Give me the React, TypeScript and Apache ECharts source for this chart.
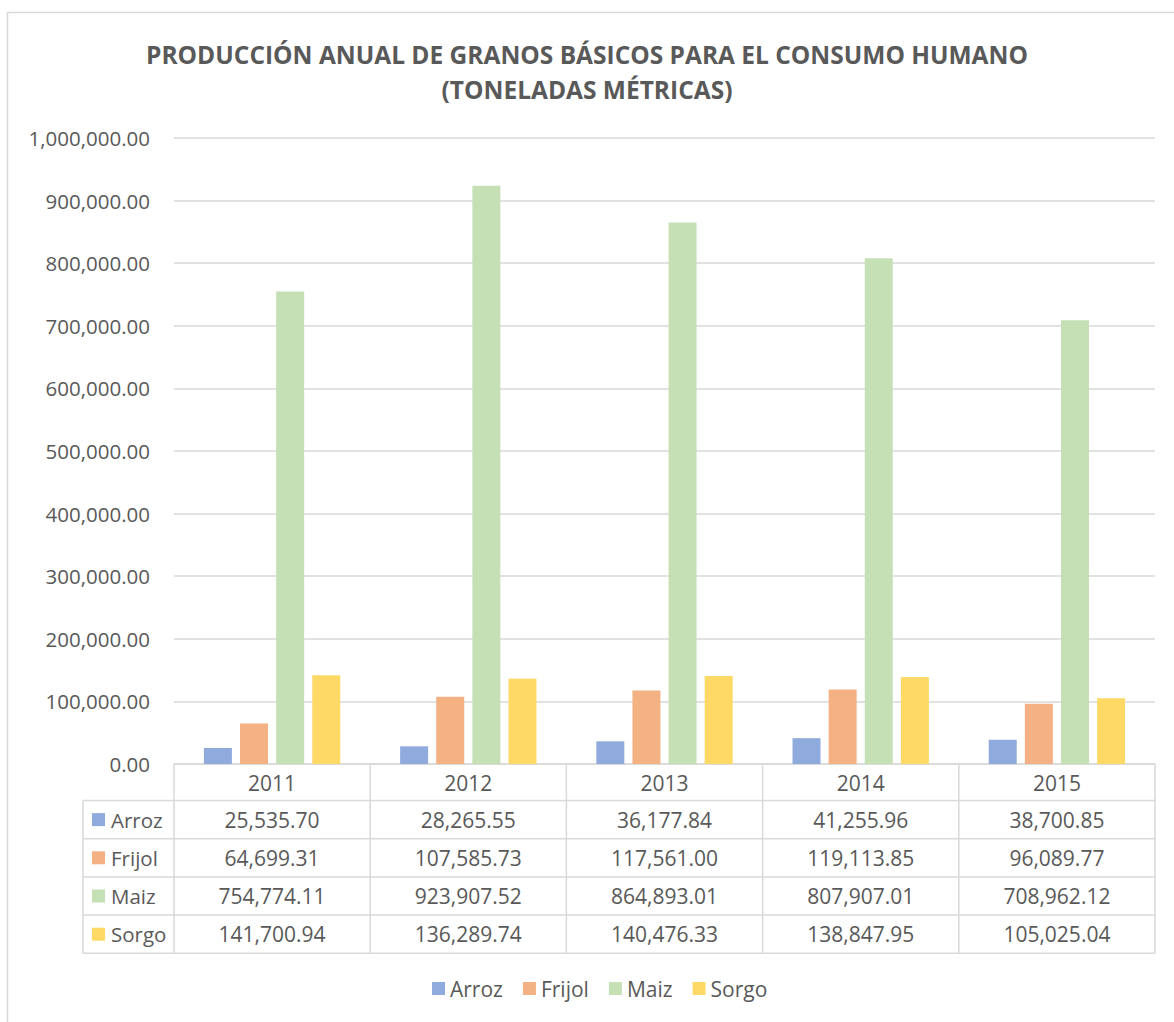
import React, { useEffect, useRef } from "react";
import * as echarts from "echarts";

const categories = ["2011", "2012", "2013", "2014", "2015"];
const seriesNames = ["Arroz", "Frijol", "Maiz", "Sorgo"];
const arroz = [25535.7, 28265.55, 36177.84, 41255.96, 38700.85];
const frijol = [64699.31, 107585.73, 117561.0, 119113.85, 96089.77];
const maiz = [754774.11, 923907.52, 864893.01, 807907.01, 708962.12];
const sorgo = [141700.94, 136289.74, 140476.33, 138847.95, 105025.04];
const seriesColors = ["#8FAADC", "#F4B183", "#C5E0B4", "#FFD966"];
const titleLines = [
  "PRODUCCIÓN ANUAL DE GRANOS BÁSICOS PARA EL CONSUMO HUMANO",
  "(TONELADAS MÉTRICAS)",
];
const yMin = 0;
const yMax = 1000000;
const yInterval = 100000;

const seriesData = [arroz, frijol, maiz, sorgo];

const FONT = "'Open Sans', 'Noto Sans', sans-serif";
const TEXT = "#595959";
const LINE = "#D9D9D9";

const fmt = (v: number) =>
  v.toLocaleString("en-US", { minimumFractionDigits: 2, maximumFractionDigits: 2 });

export default function App() {
  const ref = useRef<HTMLDivElement>(null);

  useEffect(() => {
    document.body.style.margin = "0";
    const el = ref.current!;
    const chart = echarts.init(el, null, { renderer: "svg" });

    const base: any = {
      animation: false,
      backgroundColor: "#FFFFFF",
      title: titleLines.map((t, i) => ({
        text: t,
        left: "center",
        top: 37 + i * 35,
        textStyle: { fontFamily: FONT, fontSize: 24.5, fontWeight: "bold", color: TEXT },
      })),
      legend: {
        data: seriesNames,
        bottom: 18,
        left: 427,
        itemWidth: 13,
        itemHeight: 13,
        itemGap: 20,
        icon: "rect",
        textStyle: { fontFamily: FONT, fontSize: 21, color: TEXT },
      },
      grid: { left: 174, right: 19, top: 138, bottom: 258, containLabel: false },
      xAxis: {
        type: "category",
        data: categories,
        axisLine: { show: true, lineStyle: { color: LINE, width: 1.5 } },
        axisTick: { show: false },
        axisLabel: { fontFamily: FONT, fontSize: 21, color: TEXT, margin: 8 },
      },
      yAxis: {
        type: "value",
        min: yMin,
        max: yMax,
        interval: yInterval,
        axisLine: { show: false },
        axisTick: { show: false },
        axisLabel: {
          fontFamily: FONT,
          fontSize: 20.5,
          color: TEXT,
          margin: 24,
          formatter: (v: number) => fmt(v),
        },
        splitLine: { lineStyle: { color: LINE, width: 1.5 } },
      },
      series: seriesNames.map((name, i) => ({
        name,
        type: "bar",
        data: seriesData[i],
        barWidth: 28,
        barGap: "29%",
        itemStyle: { color: seriesColors[i] },
      })),
    };
    chart.setOption(base);

    // Data table below the plot, positioned via the axis scales
    const xs = categories.map((c) => chart.convertToPixel({ xAxisIndex: 0 }, c) as number);
    const step = xs.length > 1 ? xs[1] - xs[0] : 196;
    const xLeft = xs[0] - step / 2;
    const xRight = xs[xs.length - 1] + step / 2;
    const y0 = chart.convertToPixel({ yAxisIndex: 0 }, 0) as number;
    const HEADER_H = 36.5;
    const ROW_H = 38.2;
    const TABLE_LEFT = 83;
    const rowTop = y0 + HEADER_H;
    const tableBottom = rowTop + ROW_H * seriesNames.length;

    const g: any[] = [];
    g.push({
      type: "rect",
      shape: { x: 7.5, y: 12.5, width: 1200, height: 1100 },
      style: { fill: "none", stroke: LINE, lineWidth: 1.5 },
      silent: true,
    });
    for (let i = 0; i <= seriesNames.length; i++) {
      const y = rowTop + i * ROW_H;
      g.push({
        type: "line",
        shape: { x1: TABLE_LEFT, y1: y, x2: xRight, y2: y },
        style: { stroke: LINE, lineWidth: 1.5 },
      });
    }
    g.push({
      type: "line",
      shape: { x1: TABLE_LEFT, y1: rowTop, x2: TABLE_LEFT, y2: tableBottom },
      style: { stroke: LINE, lineWidth: 1.5 },
    });
    for (let j = 0; j <= categories.length; j++) {
      const x = xLeft + j * step;
      g.push({
        type: "line",
        shape: { x1: x, y1: y0, x2: x, y2: tableBottom },
        style: { stroke: LINE, lineWidth: 1.5 },
      });
    }
    seriesNames.forEach((name, i) => {
      const cy = rowTop + (i + 0.5) * ROW_H;
      g.push({
        type: "rect",
        shape: { x: 92, y: cy - 6.5, width: 13, height: 13 },
        style: { fill: seriesColors[i] },
      });
      g.push({
        type: "text",
        x: 111,
        y: cy,
        style: {
          text: name,
          fontFamily: FONT,
          fontSize: 20.5,
          fill: TEXT,
          align: "left",
          verticalAlign: "middle",
        },
      });
      seriesData[i].forEach((v, j) => {
        g.push({
          type: "text",
          x: xs[j],
          y: cy,
          style: {
            text: fmt(v),
            fontFamily: FONT,
            fontSize: 21,
            fill: TEXT,
            align: "center",
            verticalAlign: "middle",
          },
        });
      });
    });
    chart.setOption({ graphic: g });

    return () => chart.dispose();
  }, []);

  return <div ref={ref} style={{ width: 1174, height: 1022 }} />;
}
